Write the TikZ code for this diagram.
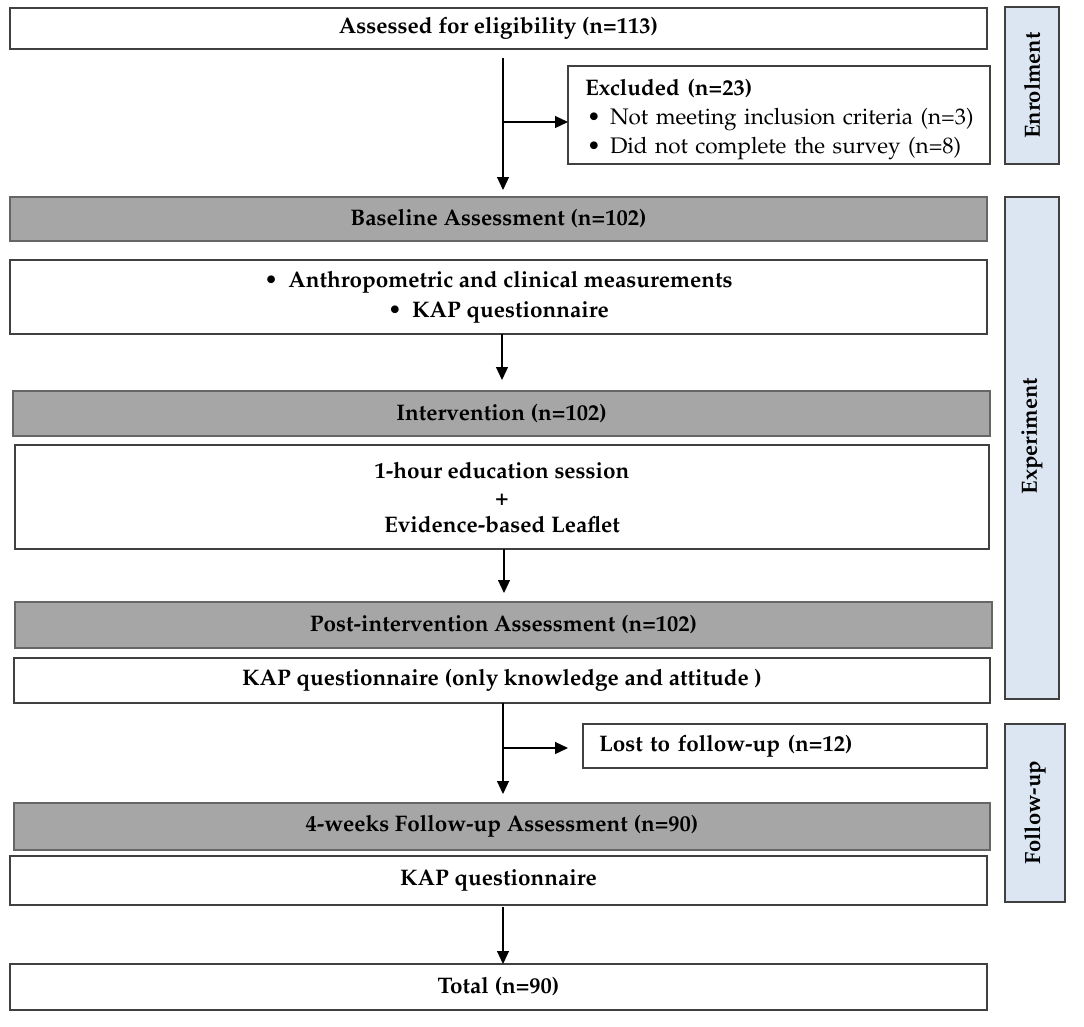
\documentclass[tikz,border=0pt]{standalone}
\usepackage[T1]{fontenc}
\renewcommand{\rmdefault}{ppl}
\usetikzlibrary{arrows.meta}
\definecolor{grayfill}{HTML}{A6A6A6}
\definecolor{labfill}{HTML}{DCE6F2}
\definecolor{edgec}{HTML}{404040}
\begin{document}
\begin{tikzpicture}[x=1pt,y=-1pt,
 every node/.style={font=\fontsize{22.5}{29.5}\selectfont\bfseries, inner sep=0pt, outer sep=0pt},
 wbox/.style={draw=edgec, line width=1.3pt, fill=white, rectangle, align=center},
 gbox/.style={wbox, fill=grayfill, draw=black!60},
 lab/.style={draw=edgec, line width=1.3pt, fill=labfill, rectangle},
 labtxt/.style={rotate=90, font=\fontsize{22}{26}\selectfont\bfseries},
 arr/.style={draw=black, line width=1.2pt, -{Triangle[length=13pt,width=12pt]}},
]
\useasboundingbox[fill=white] (0,0) rectangle (1084,1026);

% main column
\node[wbox, minimum width=977pt, minimum height=41pt] (assess) at (498.5,28.5) {Assessed for eligibility (n=113)};
\node[wbox, minimum width=422pt, minimum height=98pt, text width=388pt, align=left,
      font=\fontsize{22.5}{29}\selectfont\bfseries] (excl) at (779,115)
 {\mbox{\rule{0pt}{25pt}Excluded (n=23)}\\
  \mbox{\mdseries\makebox[25pt][l]{\hspace{2pt}\textbullet}Not meeting inclusion criteria (n=3)}\\
  \mbox{\mdseries\makebox[25pt][l]{\hspace{2pt}\textbullet}Did not complete the survey (n=8)}};
\node[gbox, minimum width=977pt, minimum height=44pt] (base) at (498.5,219) {Baseline Assessment (n=102)};
\node[wbox, minimum width=977pt, minimum height=74pt] (anthro) at (498.5,297)
 {\makebox[24pt][l]{\textbullet}Anthropometric and clinical measurements\\
  \makebox[24pt][l]{\textbullet}KAP questionnaire};
\node[gbox, minimum width=977pt, minimum height=45pt] (interv) at (501.5,413.5) {Intervention (n=102)};
\node[wbox, minimum width=974pt, minimum height=104pt, font=\fontsize{22.5}{27}\selectfont\bfseries] (edu) at (502,497)
 {1-hour education session\\+\\Evidence-based Leaflet};
\node[gbox, minimum width=977pt, minimum height=46pt] (post) at (503.5,625) {Post-intervention Assessment (n=102)};
\node[wbox, minimum width=976pt, minimum height=45pt] (kap1) at (502,680.5) {KAP questionnaire (only knowledge and attitude )};
\node[wbox, minimum width=404pt, minimum height=44pt, text width=372pt, align=left] (lost) at (785,746) {Lost to follow-up (n=12)};
\node[gbox, minimum width=976pt, minimum height=47pt] (fu) at (502,826.5) {4-weeks Follow-up Assessment (n=90)};
\node[wbox, minimum width=977pt, minimum height=49pt] (kap2) at (498.5,880.5) {KAP questionnaire};
\node[wbox, minimum width=977pt, minimum height=46pt] (total) at (498.5,987) {Total (n=90)};

% side labels
\node[lab, minimum width=54pt, minimum height=157pt] (enrol) at (1032,85.5) {};
\node[labtxt] (enroltxt) at (enrol) {Enrolment};
\node[lab, minimum width=54pt, minimum height=502pt] (exper) at (1032,448) {};
\node[labtxt] (expertxt) at (1032,436) {Experiment};
\node[lab, minimum width=60pt, minimum height=178pt] (follow) at (1035,813) {};
\node[labtxt] (followtxt) at (follow) {Follow-up};

% connectors
\coordinate (s1) at (503,58);
\coordinate (e1) at (503,190);
\draw[arr] (s1) -- (e1);
\coordinate (j1) at (503,122);
\draw[arr] (j1) -- (j1 -| excl.west);

\coordinate (s2) at (502,334);
\coordinate (e2) at (502,380);
\draw[arr] (s2) -- (e2);

\coordinate (s3) at (504,549);
\coordinate (e3) at (504,593);
\draw[arr] (s3) -- (e3);

\coordinate (s4) at (503,703);
\coordinate (e4) at (503,794);
\draw[arr] (s4) -- (e4);
\coordinate (j4) at (503,748);
\coordinate (t4) at (568,748);
\draw[arr] (j4) -- (t4);

\coordinate (s5) at (503,907);
\draw[arr] (s5) -- (s5 |- total.north);
\end{tikzpicture}
\end{document}
